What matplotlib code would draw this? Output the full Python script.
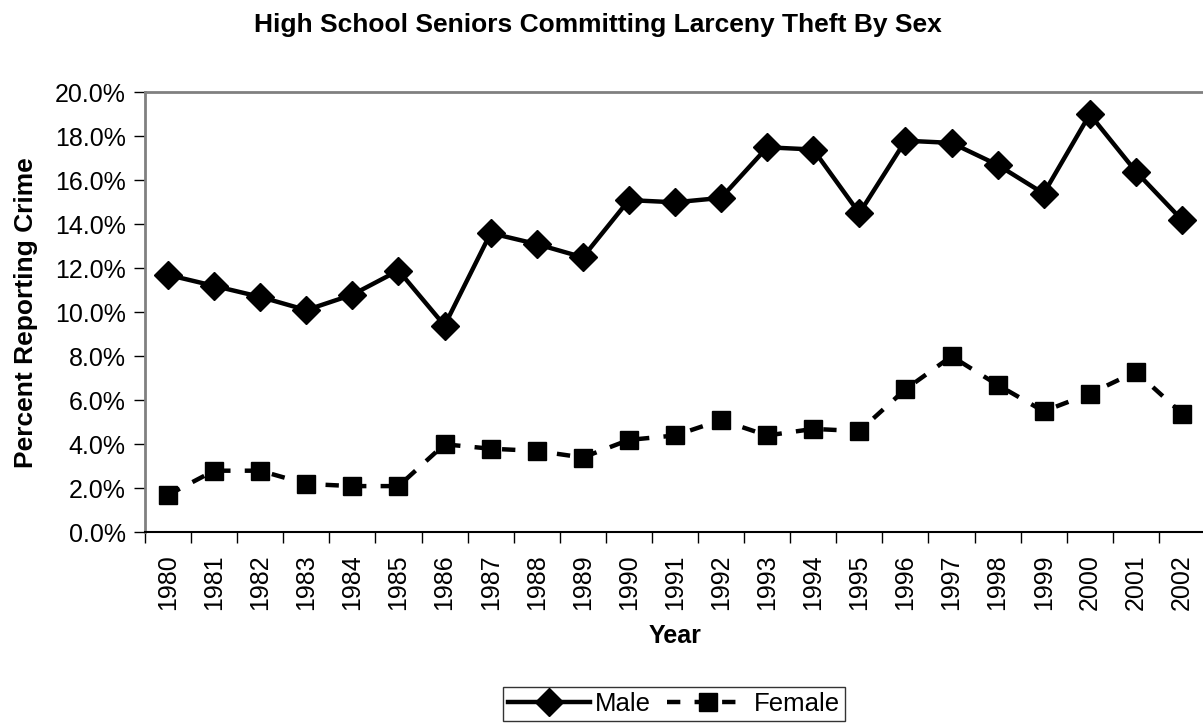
import matplotlib
matplotlib.use("Agg")
import matplotlib.pyplot as plt
from matplotlib.ticker import FuncFormatter, FixedLocator

years = [str(y) for y in range(1980, 2003)]
male = [11.7, 11.2, 10.7, 10.1, 10.8, 11.9, 9.4, 13.6, 13.1, 12.5, 15.1, 15.0,
        15.2, 17.5, 17.4, 14.5, 17.8, 17.7, 16.7, 15.4, 19.0, 16.4, 14.2]
female = [1.7, 2.8, 2.8, 2.2, 2.1, 2.1, 4.0, 3.8, 3.7, 3.4, 4.2, 4.4,
          5.1, 4.4, 4.7, 4.6, 6.5, 8.0, 6.7, 5.5, 6.3, 7.3, 5.4]
yticks = [0, 2, 4, 6, 8, 10, 12, 14, 16, 18, 20]

plt.rcParams['font.family'] = ['Liberation Sans', 'DejaVu Sans']

W, H = 1203, 727
fig = plt.figure(figsize=(W / 100, H / 100), dpi=100)
left, right, top, bottom = 145, 1205, 92.3, 532.3
ax = fig.add_axes([left / W, 1 - bottom / H, (right - left) / W, (bottom - top) / H])

x = list(range(len(years)))
ax.plot(x, male, color='black', lw=3.2, marker='D', markersize=14, label='Male',
        solid_joinstyle='miter')
ax.plot(x, female, color='black', lw=3.2, marker='s', markersize=12.5, label='Female',
        dashes=(3, 3.2))

ax.set_xlim(-0.5, len(years) - 0.5)
ax.set_ylim(0, 20)
ax.set_yticks(yticks)
ax.yaxis.set_major_formatter(FuncFormatter(lambda v, p: f"{v:.1f}%"))
ax.set_xticks(x)
ax.set_xticklabels(years, rotation=90)
ax.xaxis.set_minor_locator(FixedLocator([i - 0.5 for i in range(len(years) + 1)]))
ax.tick_params(axis='x', which='major', length=0, pad=16, labelsize=18)
ax.tick_params(axis='x', which='minor', length=8, width=1, direction='out', color='black')
ax.tick_params(axis='y', length=8, width=1, direction='out', labelsize=18, pad=6, color='black')

for s in ['left', 'top', 'right']:
    ax.spines[s].set_color('#808080')
    ax.spines[s].set_linewidth(2)
ax.spines['bottom'].set_color('black')
ax.spines['bottom'].set_linewidth(1.5)

ax.set_ylabel('Percent Reporting Crime', fontsize=19, fontweight='bold', labelpad=12)
ax.set_xlabel('Year', fontsize=18, fontweight='bold', labelpad=10)
fig.text(598 / W, 1 - 32 / H, 'High School Seniors Committing Larceny Theft By Sex',
         ha='center', va='baseline', fontsize=19, fontweight='bold')

leg = fig.legend(loc='upper center', bbox_to_anchor=(674 / W, 1 - 687 / H), ncol=2,
                 fontsize=18.5, frameon=True, fancybox=False, handlelength=3.2,
                 handletextpad=0.2, columnspacing=0.6, borderpad=0.2,
                 borderaxespad=0, edgecolor='black')
leg.get_frame().set_linewidth(1)

fig.savefig('out.png', dpi=100)
